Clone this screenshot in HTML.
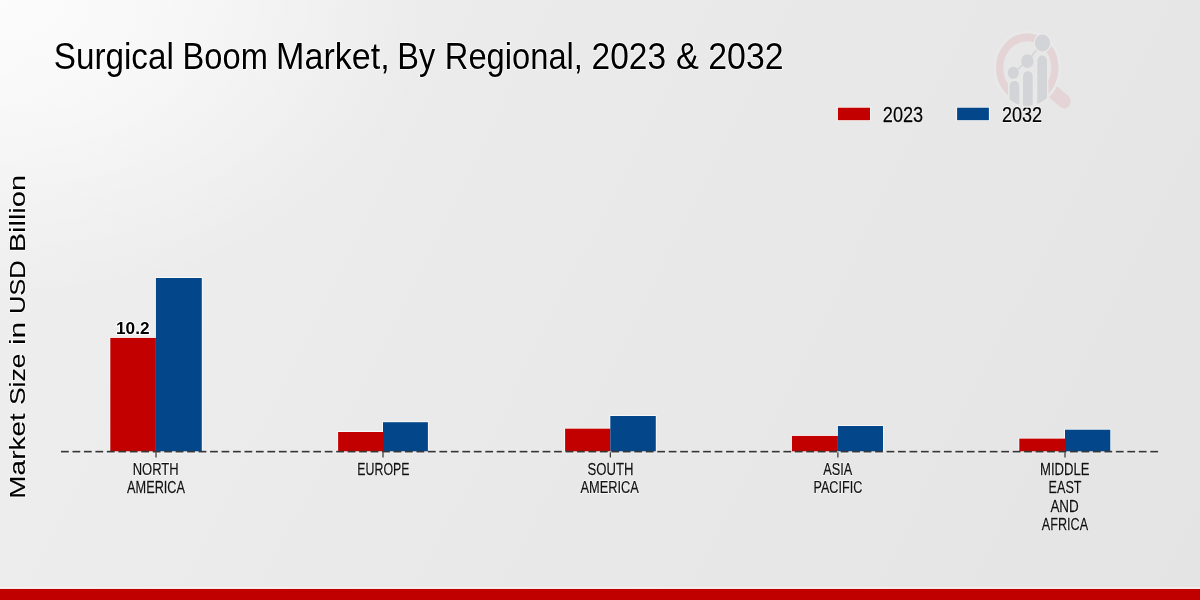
<!DOCTYPE html>
<html><head><meta charset="utf-8">
<style>
html,body{margin:0;padding:0;width:1200px;height:600px;overflow:hidden;background:#e8e8e8;}
svg{display:block;will-change:transform;}
</style></head>
<body>
<svg width="1200" height="600" viewBox="0 0 1200 600" font-family="Liberation Sans, sans-serif">
<defs>
<linearGradient id="bg" x1="0" y1="0" x2="1200" y2="600" gradientUnits="userSpaceOnUse">
<stop offset="0" stop-color="#efefef"/>
<stop offset="0.5" stop-color="#e9e9e9"/>
<stop offset="1" stop-color="#e4e4e4"/>
</linearGradient>
<radialGradient id="hl" cx="0" cy="0" r="1" gradientUnits="userSpaceOnUse" gradientTransform="translate(0,0) scale(440,300)">
<stop offset="0" stop-color="#ffffff" stop-opacity="0.8"/>
<stop offset="0.35" stop-color="#ffffff" stop-opacity="0.6"/>
<stop offset="0.7" stop-color="#ffffff" stop-opacity="0.25"/>
<stop offset="1" stop-color="#ffffff" stop-opacity="0"/>
</radialGradient>
</defs>
<rect x="0" y="0" width="1200" height="600" fill="url(#bg)"/>
<rect x="0" y="0" width="1200" height="600" fill="url(#hl)"/>

<text transform="translate(53.77,68.75) scale(0.8982,1)" font-size="37" font-weight="normal" text-anchor="start" fill="#fff" stroke="#fff" stroke-width="1.5" stroke-linejoin="round" stroke-opacity="0.9">Surgical</text><text transform="translate(53.77,68.75) scale(0.8982,1)" font-size="37" font-weight="normal" text-anchor="start" fill="#000" >Surgical</text>
<text transform="translate(182.60,68.75) scale(0.8822,1)" font-size="37" font-weight="normal" text-anchor="start" fill="#fff" stroke="#fff" stroke-width="1.5" stroke-linejoin="round" stroke-opacity="0.9">Boom</text><text transform="translate(182.60,68.75) scale(0.8822,1)" font-size="37" font-weight="normal" text-anchor="start" fill="#000" >Boom</text>
<text transform="translate(276.10,68.75) scale(0.9216,1)" font-size="37" font-weight="normal" text-anchor="start" fill="#fff" stroke="#fff" stroke-width="1.5" stroke-linejoin="round" stroke-opacity="0.9">Market,</text><text transform="translate(276.10,68.75) scale(0.9216,1)" font-size="37" font-weight="normal" text-anchor="start" fill="#000" >Market,</text>
<text transform="translate(397.30,68.75) scale(0.8798,1)" font-size="37" font-weight="normal" text-anchor="start" fill="#fff" stroke="#fff" stroke-width="1.5" stroke-linejoin="round" stroke-opacity="0.9">By</text><text transform="translate(397.30,68.75) scale(0.8798,1)" font-size="37" font-weight="normal" text-anchor="start" fill="#000" >By</text>
<text transform="translate(444.83,68.75) scale(0.8835,1)" font-size="37" font-weight="normal" text-anchor="start" fill="#fff" stroke="#fff" stroke-width="1.5" stroke-linejoin="round" stroke-opacity="0.9">Regional,</text><text transform="translate(444.83,68.75) scale(0.8835,1)" font-size="37" font-weight="normal" text-anchor="start" fill="#000" >Regional,</text>
<text transform="translate(591.53,68.75) scale(0.9057,1)" font-size="37" font-weight="normal" text-anchor="start" fill="#fff" stroke="#fff" stroke-width="1.5" stroke-linejoin="round" stroke-opacity="0.9">2023</text><text transform="translate(591.53,68.75) scale(0.9057,1)" font-size="37" font-weight="normal" text-anchor="start" fill="#000" >2023</text>
<text transform="translate(676.11,68.75) scale(0.9297,1)" font-size="37" font-weight="normal" text-anchor="start" fill="#fff" stroke="#fff" stroke-width="1.5" stroke-linejoin="round" stroke-opacity="0.9">&amp;</text><text transform="translate(676.11,68.75) scale(0.9297,1)" font-size="37" font-weight="normal" text-anchor="start" fill="#000" >&amp;</text>
<text transform="translate(708.22,68.75) scale(0.9156,1)" font-size="37" font-weight="normal" text-anchor="start" fill="#fff" stroke="#fff" stroke-width="1.5" stroke-linejoin="round" stroke-opacity="0.9">2032</text><text transform="translate(708.22,68.75) scale(0.9156,1)" font-size="37" font-weight="normal" text-anchor="start" fill="#000" >2032</text>
<rect x="837.1" y="106.9" width="33.7" height="14.1" fill="#fff" opacity="0.8"/><rect x="837.9" y="107.7" width="32.1" height="12.5" fill="#c30000"/>
<text transform="translate(882.78,121.70) scale(0.8455,1)" font-size="21.5" font-weight="normal" text-anchor="start" fill="#fff" stroke="#fff" stroke-width="1.5" stroke-linejoin="round" stroke-opacity="0.9">2023</text><text transform="translate(882.78,121.70) scale(0.8455,1)" font-size="21.5" font-weight="normal" text-anchor="start" fill="#000" stroke="#000" stroke-width="0.25">2023</text>
<rect x="956.3" y="106.9" width="33.4" height="14.1" fill="#fff" opacity="0.8"/><rect x="957.1" y="107.7" width="31.8" height="12.5" fill="#03478a"/>
<text transform="translate(1002.01,121.70) scale(0.8393,1)" font-size="21.5" font-weight="normal" text-anchor="start" fill="#fff" stroke="#fff" stroke-width="1.5" stroke-linejoin="round" stroke-opacity="0.9">2032</text><text transform="translate(1002.01,121.70) scale(0.8393,1)" font-size="21.5" font-weight="normal" text-anchor="start" fill="#000" stroke="#000" stroke-width="0.25">2032</text>
<text transform="translate(24.7,498.69) rotate(-90) scale(1.2371,1)" font-size="22.6" text-anchor="start" fill="#fff" stroke="#fff" stroke-width="1.5" stroke-linejoin="round" stroke-opacity="0.9">Market</text><text transform="translate(24.7,498.69) rotate(-90) scale(1.2371,1)" font-size="22.6" text-anchor="start" fill="#000" stroke="#000" stroke-width="0.1">Market</text>
<text transform="translate(24.7,405.11) rotate(-90) scale(1.1725,1)" font-size="22.6" text-anchor="start" fill="#fff" stroke="#fff" stroke-width="1.5" stroke-linejoin="round" stroke-opacity="0.9">Size</text><text transform="translate(24.7,405.11) rotate(-90) scale(1.1725,1)" font-size="22.6" text-anchor="start" fill="#000" stroke="#000" stroke-width="0.1">Size</text>
<text transform="translate(24.7,345.05) rotate(-90) scale(1.3148,1)" font-size="22.6" text-anchor="start" fill="#fff" stroke="#fff" stroke-width="1.5" stroke-linejoin="round" stroke-opacity="0.9">in</text><text transform="translate(24.7,345.05) rotate(-90) scale(1.3148,1)" font-size="22.6" text-anchor="start" fill="#000" stroke="#000" stroke-width="0.1">in</text>
<text transform="translate(24.7,314.03) rotate(-90) scale(1.1282,1)" font-size="22.6" text-anchor="start" fill="#fff" stroke="#fff" stroke-width="1.5" stroke-linejoin="round" stroke-opacity="0.9">USD</text><text transform="translate(24.7,314.03) rotate(-90) scale(1.1282,1)" font-size="22.6" text-anchor="start" fill="#000" stroke="#000" stroke-width="0.1">USD</text>
<text transform="translate(24.7,252.34) rotate(-90) scale(1.2842,1)" font-size="22.6" text-anchor="start" fill="#fff" stroke="#fff" stroke-width="1.5" stroke-linejoin="round" stroke-opacity="0.9">Billion</text><text transform="translate(24.7,252.34) rotate(-90) scale(1.2842,1)" font-size="22.6" text-anchor="start" fill="#000" stroke="#000" stroke-width="0.1">Billion</text>
<line x1="61" y1="451.65" x2="1158.3" y2="451.65" stroke="#fff" stroke-width="3.4" stroke-dasharray="7.8 3.666" opacity="1"/>
<g fill="#fff" opacity="0.85">
<rect x="109.50" y="337.10" width="47.20" height="114.20"/>
<rect x="155.10" y="277.20" width="47.50" height="174.10"/>
<rect x="337.30" y="431.20" width="46.50" height="20.10"/>
<rect x="382.20" y="421.40" width="46.50" height="29.90"/>
<rect x="564.30" y="427.85" width="46.80" height="23.45"/>
<rect x="609.50" y="415.20" width="47.10" height="36.10"/>
<rect x="791.10" y="435.10" width="47.60" height="16.20"/>
<rect x="837.10" y="425.20" width="46.70" height="26.10"/>
<rect x="1018.50" y="437.80" width="47.30" height="13.50"/>
<rect x="1064.20" y="428.90" width="46.90" height="22.40"/>
</g>
<rect x="110.3" y="337.9" width="45.60" height="113.40" fill="#c30000"/>
<rect x="155.9" y="278" width="45.90" height="173.30" fill="#03478a"/>
<rect x="338.1" y="432" width="44.90" height="19.30" fill="#c30000"/>
<rect x="383" y="422.2" width="44.90" height="29.10" fill="#03478a"/>
<rect x="565.1" y="428.65" width="45.20" height="22.65" fill="#c30000"/>
<rect x="610.3" y="416" width="45.50" height="35.30" fill="#03478a"/>
<rect x="791.9" y="435.9" width="46.00" height="15.40" fill="#c30000"/>
<rect x="837.9" y="426" width="45.10" height="25.30" fill="#03478a"/>
<rect x="1019.3" y="438.6" width="45.70" height="12.70" fill="#c30000"/>
<rect x="1065" y="429.7" width="45.30" height="21.60" fill="#03478a"/>
<line x1="61" y1="451.65" x2="1158.3" y2="451.65" stroke="#363636" stroke-width="1.6" stroke-dasharray="7.8 3.666"/>
<g stroke="#222" stroke-width="1.1">
<line x1="156" y1="452.3" x2="156" y2="457.4"/>
<line x1="383" y1="452.3" x2="383" y2="457.4"/>
<line x1="610.3" y1="452.3" x2="610.3" y2="457.4"/>
<line x1="837.9" y1="452.3" x2="837.9" y2="457.4"/>
<line x1="1065" y1="452.3" x2="1065" y2="457.4"/>
</g>
<text transform="translate(132.79,334.45) scale(1.0511,1)" font-size="16.4" font-weight="bold" text-anchor="middle" fill="#fff" stroke="#fff" stroke-width="2.2" stroke-linejoin="round">10.2</text><text transform="translate(132.79,334.45) scale(1.0511,1)" font-size="16.4" font-weight="bold" text-anchor="middle" fill="#000" >10.2</text>
<text transform="translate(155.69,474.60) scale(0.7685,1)" font-size="16.9" font-weight="normal" text-anchor="middle" fill="#fff" stroke="#fff" stroke-width="1.5" stroke-linejoin="round" stroke-opacity="0.9">NORTH</text><text transform="translate(155.69,474.60) scale(0.7685,1)" font-size="16.9" font-weight="normal" text-anchor="middle" fill="#111" stroke="#111" stroke-width="0.25">NORTH</text>
<text transform="translate(156.04,493.20) scale(0.7530,1)" font-size="16.9" font-weight="normal" text-anchor="middle" fill="#fff" stroke="#fff" stroke-width="1.5" stroke-linejoin="round" stroke-opacity="0.9">AMERICA</text><text transform="translate(156.04,493.20) scale(0.7530,1)" font-size="16.9" font-weight="normal" text-anchor="middle" fill="#111" stroke="#111" stroke-width="0.25">AMERICA</text>
<text transform="translate(383.39,474.60) scale(0.7316,1)" font-size="16.9" font-weight="normal" text-anchor="middle" fill="#fff" stroke="#fff" stroke-width="1.5" stroke-linejoin="round" stroke-opacity="0.9">EUROPE</text><text transform="translate(383.39,474.60) scale(0.7316,1)" font-size="16.9" font-weight="normal" text-anchor="middle" fill="#111" stroke="#111" stroke-width="0.25">EUROPE</text>
<text transform="translate(610.46,474.60) scale(0.7768,1)" font-size="16.9" font-weight="normal" text-anchor="middle" fill="#fff" stroke="#fff" stroke-width="1.5" stroke-linejoin="round" stroke-opacity="0.9">SOUTH</text><text transform="translate(610.46,474.60) scale(0.7768,1)" font-size="16.9" font-weight="normal" text-anchor="middle" fill="#111" stroke="#111" stroke-width="0.25">SOUTH</text>
<text transform="translate(609.73,493.20) scale(0.7579,1)" font-size="16.9" font-weight="normal" text-anchor="middle" fill="#fff" stroke="#fff" stroke-width="1.5" stroke-linejoin="round" stroke-opacity="0.9">AMERICA</text><text transform="translate(609.73,493.20) scale(0.7579,1)" font-size="16.9" font-weight="normal" text-anchor="middle" fill="#111" stroke="#111" stroke-width="0.25">AMERICA</text>
<text transform="translate(837.69,474.60) scale(0.7509,1)" font-size="16.9" font-weight="normal" text-anchor="middle" fill="#fff" stroke="#fff" stroke-width="1.5" stroke-linejoin="round" stroke-opacity="0.9">ASIA</text><text transform="translate(837.69,474.60) scale(0.7509,1)" font-size="16.9" font-weight="normal" text-anchor="middle" fill="#111" stroke="#111" stroke-width="0.25">ASIA</text>
<text transform="translate(837.86,493.20) scale(0.7484,1)" font-size="16.9" font-weight="normal" text-anchor="middle" fill="#fff" stroke="#fff" stroke-width="1.5" stroke-linejoin="round" stroke-opacity="0.9">PACIFIC</text><text transform="translate(837.86,493.20) scale(0.7484,1)" font-size="16.9" font-weight="normal" text-anchor="middle" fill="#111" stroke="#111" stroke-width="0.25">PACIFIC</text>
<text transform="translate(1064.74,474.60) scale(0.7768,1)" font-size="16.9" font-weight="normal" text-anchor="middle" fill="#fff" stroke="#fff" stroke-width="1.5" stroke-linejoin="round" stroke-opacity="0.9">MIDDLE</text><text transform="translate(1064.74,474.60) scale(0.7768,1)" font-size="16.9" font-weight="normal" text-anchor="middle" fill="#111" stroke="#111" stroke-width="0.25">MIDDLE</text>
<text transform="translate(1065.10,493.20) scale(0.7475,1)" font-size="16.9" font-weight="normal" text-anchor="middle" fill="#fff" stroke="#fff" stroke-width="1.5" stroke-linejoin="round" stroke-opacity="0.9">EAST</text><text transform="translate(1065.10,493.20) scale(0.7475,1)" font-size="16.9" font-weight="normal" text-anchor="middle" fill="#111" stroke="#111" stroke-width="0.25">EAST</text>
<text transform="translate(1064.55,511.80) scale(0.7948,1)" font-size="16.9" font-weight="normal" text-anchor="middle" fill="#fff" stroke="#fff" stroke-width="1.5" stroke-linejoin="round" stroke-opacity="0.9">AND</text><text transform="translate(1064.55,511.80) scale(0.7948,1)" font-size="16.9" font-weight="normal" text-anchor="middle" fill="#111" stroke="#111" stroke-width="0.25">AND</text>
<text transform="translate(1064.96,530.40) scale(0.7474,1)" font-size="16.9" font-weight="normal" text-anchor="middle" fill="#fff" stroke="#fff" stroke-width="1.5" stroke-linejoin="round" stroke-opacity="0.9">AFRICA</text><text transform="translate(1064.96,530.40) scale(0.7474,1)" font-size="16.9" font-weight="normal" text-anchor="middle" fill="#111" stroke="#111" stroke-width="0.25">AFRICA</text>
<defs><clipPath id="lm"><circle cx="0" cy="3" r="32.5"/></clipPath><clipPath id="lb"><circle cx="0" cy="3" r="31"/></clipPath></defs>
<g transform="translate(1027.25,68) scale(1,1.115)">
<line x1="20" y1="17" x2="37" y2="30" stroke="#e5d4d6" stroke-width="12.6" stroke-linecap="round"/>
<circle cx="0" cy="0" r="32.6" fill="none" stroke="#e9e9e9" stroke-width="2.6"/>
<circle cx="0" cy="0" r="27.6" fill="none" stroke="#e5d4d6" stroke-width="7.3"/>
<g clip-path="url(#lm)" fill="#e9e9e9"><rect x="-19.3" y="14" width="40.3" height="30"/><rect x="-19" y="10.2" width="12.25" height="40" rx="6"/><rect x="-5.5" y="1.5" width="12.25" height="45" rx="6"/><rect x="8.75" y="-12.6" width="12.25" height="60" rx="6"/></g>
<g clip-path="url(#lb)" fill="#d3d4d7">
<rect x="-17.75" y="11.4" width="9.75" height="40" rx="4.87"/>
<rect x="-4.25" y="2.7" width="9.75" height="45" rx="4.87"/>
<rect x="10" y="-11.4" width="9.75" height="60" rx="4.87"/>
</g>
<polyline points="-14,4.4 0.15,-6.2 15.25,-22.4" fill="none" stroke="#d3d4d7" stroke-width="1.3"/>
<circle cx="-14" cy="4.4" r="5.5" fill="#d3d4d7"/>
<circle cx="0.15" cy="-6.2" r="6.2" fill="#d3d4d7"/>
<circle cx="15.25" cy="-22.4" r="8.9" fill="#e9e9e9"/>
<circle cx="15.25" cy="-22.4" r="7.6" fill="#d3d4d7"/>
</g>
<rect x="0" y="587.6" width="1200" height="1.6" fill="#ffffff"/>
<rect x="0" y="588.9" width="1200" height="11.1" fill="#c00000"/>
</svg>
</body></html>
